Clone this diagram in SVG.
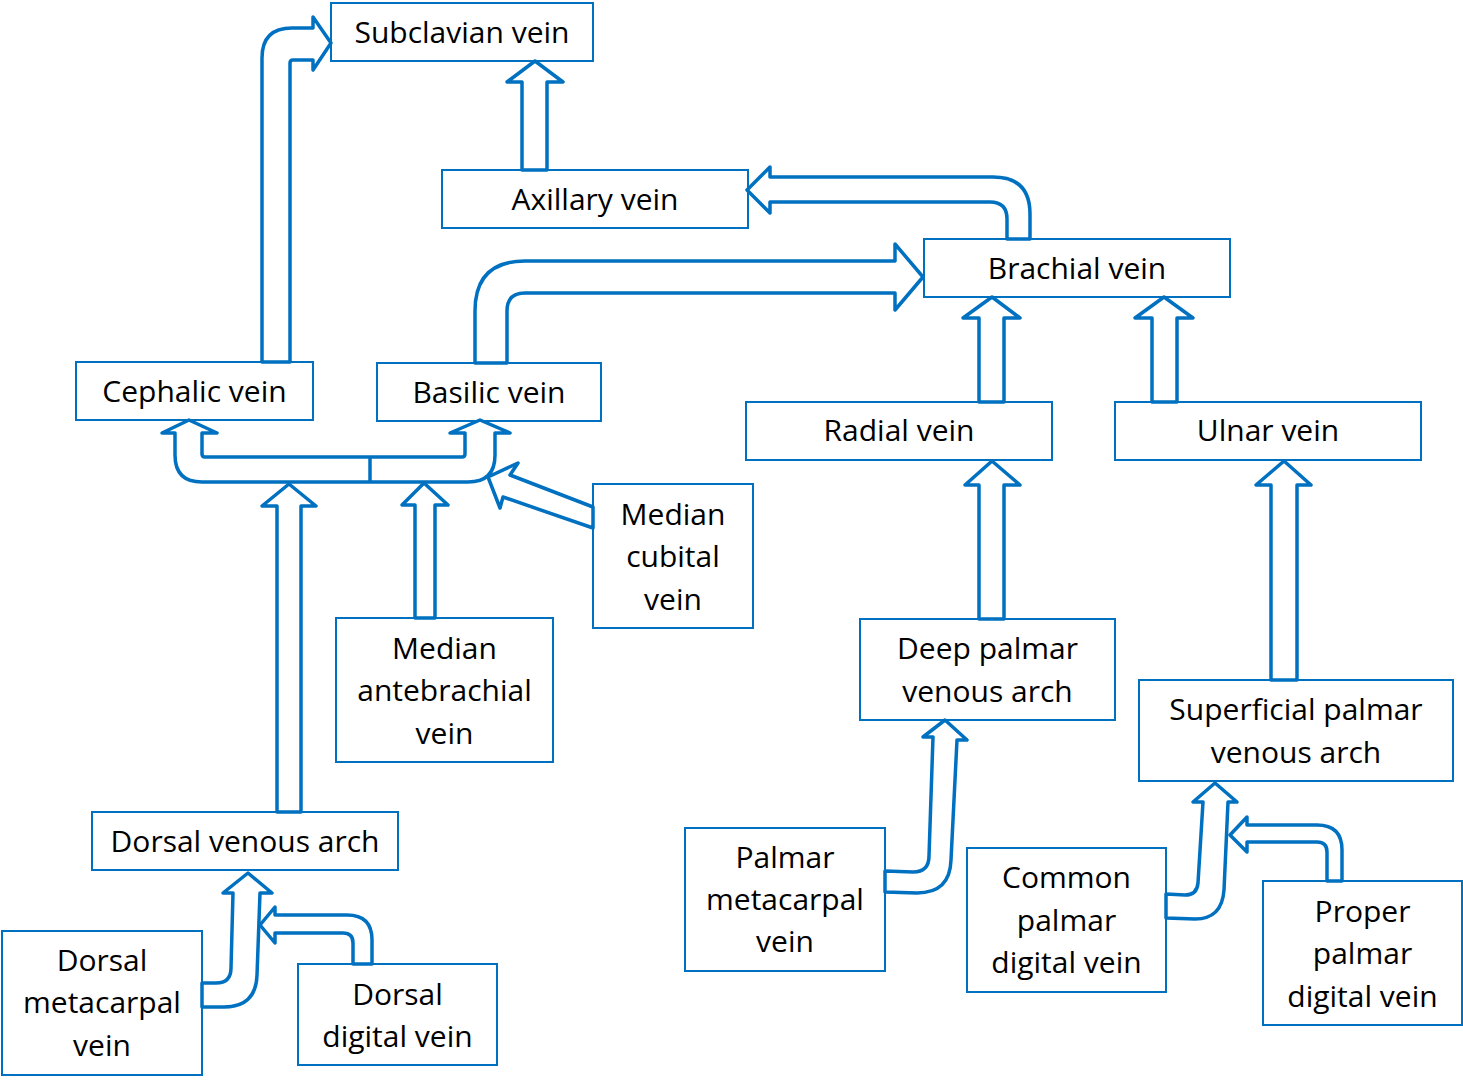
<svg xmlns="http://www.w3.org/2000/svg" width="1463" height="1087" viewBox="0 0 1463 1087">
<style>
.box{fill:#fff;stroke:#0070C0;stroke-width:2}
.arr{fill:#fff;stroke:#0070C0;stroke-width:3.5;stroke-linejoin:round}
.seam{fill:none;stroke:#0070C0;stroke-width:3.5}
text{font-family:"Open Sans","Liberation Sans",sans-serif;font-size:30px;fill:#000;text-anchor:middle}
</style>
<rect width="1463" height="1087" fill="#fff"/>
<g id="subclavian"><rect class="box" x="331" y="3" width="262" height="58"/><text x="462" y="43">Subclavian vein</text></g>
<g id="axillary"><rect class="box" x="442" y="170" width="306" height="58"/><text x="595" y="210">Axillary vein</text></g>
<g id="brachial"><rect class="box" x="924" y="239" width="306" height="58"/><text x="1077" y="279">Brachial vein</text></g>
<g id="cephalic"><rect class="box" x="76" y="362" width="237" height="58"/><text x="194.5" y="402">Cephalic vein</text></g>
<g id="basilic"><rect class="box" x="377" y="363" width="224" height="58"/><text x="489" y="403">Basilic vein</text></g>
<g id="radial"><rect class="box" x="746" y="402" width="306" height="58"/><text x="899" y="441">Radial vein</text></g>
<g id="ulnar"><rect class="box" x="1115" y="402" width="306" height="58"/><text x="1268" y="441">Ulnar vein</text></g>
<g id="median-cubital"><rect class="box" x="593" y="484" width="160" height="144"/><text x="673" y="524.5">Median</text><text x="673" y="567">cubital</text><text x="673" y="609.5">vein</text></g>
<g id="median-antebrachial"><rect class="box" x="336" y="618" width="217" height="144"/><text x="444.5" y="659">Median</text><text x="444.5" y="701">antebrachial</text><text x="444.5" y="744">vein</text></g>
<g id="deep-palmar"><rect class="box" x="860" y="619" width="255" height="101"/><text x="987.5" y="659">Deep palmar</text><text x="987.5" y="702">venous arch</text></g>
<g id="superficial-palmar"><rect class="box" x="1139" y="680" width="314" height="101"/><text x="1296" y="720">Superficial palmar</text><text x="1296" y="763">venous arch</text></g>
<g id="dorsal-venous-arch"><rect class="box" x="92" y="812" width="306" height="58"/><text x="245" y="852">Dorsal venous arch</text></g>
<g id="dorsal-metacarpal"><rect class="box" x="2" y="931" width="200" height="144"/><text x="102" y="971">Dorsal</text><text x="102" y="1013">metacarpal</text><text x="102" y="1056">vein</text></g>
<g id="dorsal-digital"><rect class="box" x="298" y="964" width="199" height="101"/><text x="397.5" y="1005">Dorsal</text><text x="397.5" y="1047">digital vein</text></g>
<g id="palmar-metacarpal"><rect class="box" x="685" y="828" width="200" height="143"/><text x="785" y="868">Palmar</text><text x="785" y="910">metacarpal</text><text x="785" y="952">vein</text></g>
<g id="common-palmar-digital"><rect class="box" x="967" y="848" width="199" height="144"/><text x="1066.5" y="888">Common</text><text x="1066.5" y="931">palmar</text><text x="1066.5" y="973">digital vein</text></g>
<g id="proper-palmar-digital"><rect class="box" x="1263" y="881" width="199" height="144"/><text x="1362.5" y="922">Proper</text><text x="1362.5" y="964">palmar</text><text x="1362.5" y="1007">digital vein</text></g>
<g id="connectors">
<path class="arr" d="M522,170 L522,82 L507,82 L535,61 L563,82 L547,82 L547,170 Z"/>
<path class="arr" d="M262,362 L262,58 Q262,28 292,28 L313,28 L313,17 L331,43 L313,70 L313,60 L293,60 Q290,60 290,63 L290,362 Z"/>
<path class="arr" d="M1030,239 L1030,214 Q1030,177 993,177 L770,177 L770,167 L747,190 L770,213 L770,202 L990,202 Q1007,202 1007,219 L1007,239 Z"/>
<path class="arr" d="M475,363 L475,311 Q475,261 525,261 L895,261 L895,244 L923,277 L895,310 L895,293 L525,293 Q507,293 507,311 L507,363 Z"/>
<path class="arr" d="M979,402 L979,318 L963,318 L992,297 L1020,318 L1004,318 L1004,402 Z"/>
<path class="arr" d="M1152,402 L1152,318 L1135,318 L1164,297 L1193,318 L1177,318 L1177,402 Z"/>
<path class="arr" d="M979,619 L979,485 L965,485 L992,461 L1020,485 L1004,485 L1004,619 Z"/>
<path class="arr" d="M1271,680 L1271,485 L1256,485 L1284,461 L1311,485 L1297,485 L1297,680 Z"/>
<path class="arr" d="M277,812 L277,506 L262,506 L289,484 L316,506 L301,506 L301,812 Z"/>
<path class="arr" d="M415,618 L415,505 L402,505 L424,483 L448,505 L435,505 L435,618 Z"/>
<path class="arr" d="M370,482 L202,482 Q175,482 175,455 L175,433 L162,433 L189,420 L217,433 L202,433 L202,454 Q202,457 205,457 L462,457 Q465,457 465,454 L465,433 L450,433 L480,420 L510,433 L495,433 L495,455 Q495,482 468,482 Z"/>
<path class="seam" d="M370,456 L370,482"/>
<path class="arr" d="M593,507 L510,475 L518,463 L488,477 L500,508 L503,497 L593,528 Z"/>
<path class="arr" d="M202,983 L216,983 Q231,983 231,968 L233,893 L223,893 L248,873 L272,893 L260,893 L257,975 Q256,1007 224,1007 L202,1007 Z"/>
<path class="arr" d="M372,964 L372,940 Q372,915 347,915 L275,915 L275,907 L260,925 L275,943 L275,933 L343,933 Q353,933 353,943 L353,964 Z"/>
<path class="arr" d="M885,871 L913,872 Q929,872 929,856 L933,737 L923,737 L945,720 L967,740 L957,740 L951,860 Q950,893 917,893 L885,892 Z"/>
<path class="arr" d="M1166,894 L1185,895 Q1197,895 1198,883 L1203,802 L1193,802 L1215,783 L1237,802 L1228,802 L1224,890 Q1222,919 1195,919 L1166,918 Z"/>
<path class="arr" d="M1342,881 L1342,850 Q1342,825 1317,825 L1247,825 L1247,817 L1230,835 L1247,852 L1247,842 L1317,842 Q1327,842 1327,852 L1327,881 Z"/>
</g>
</svg>
